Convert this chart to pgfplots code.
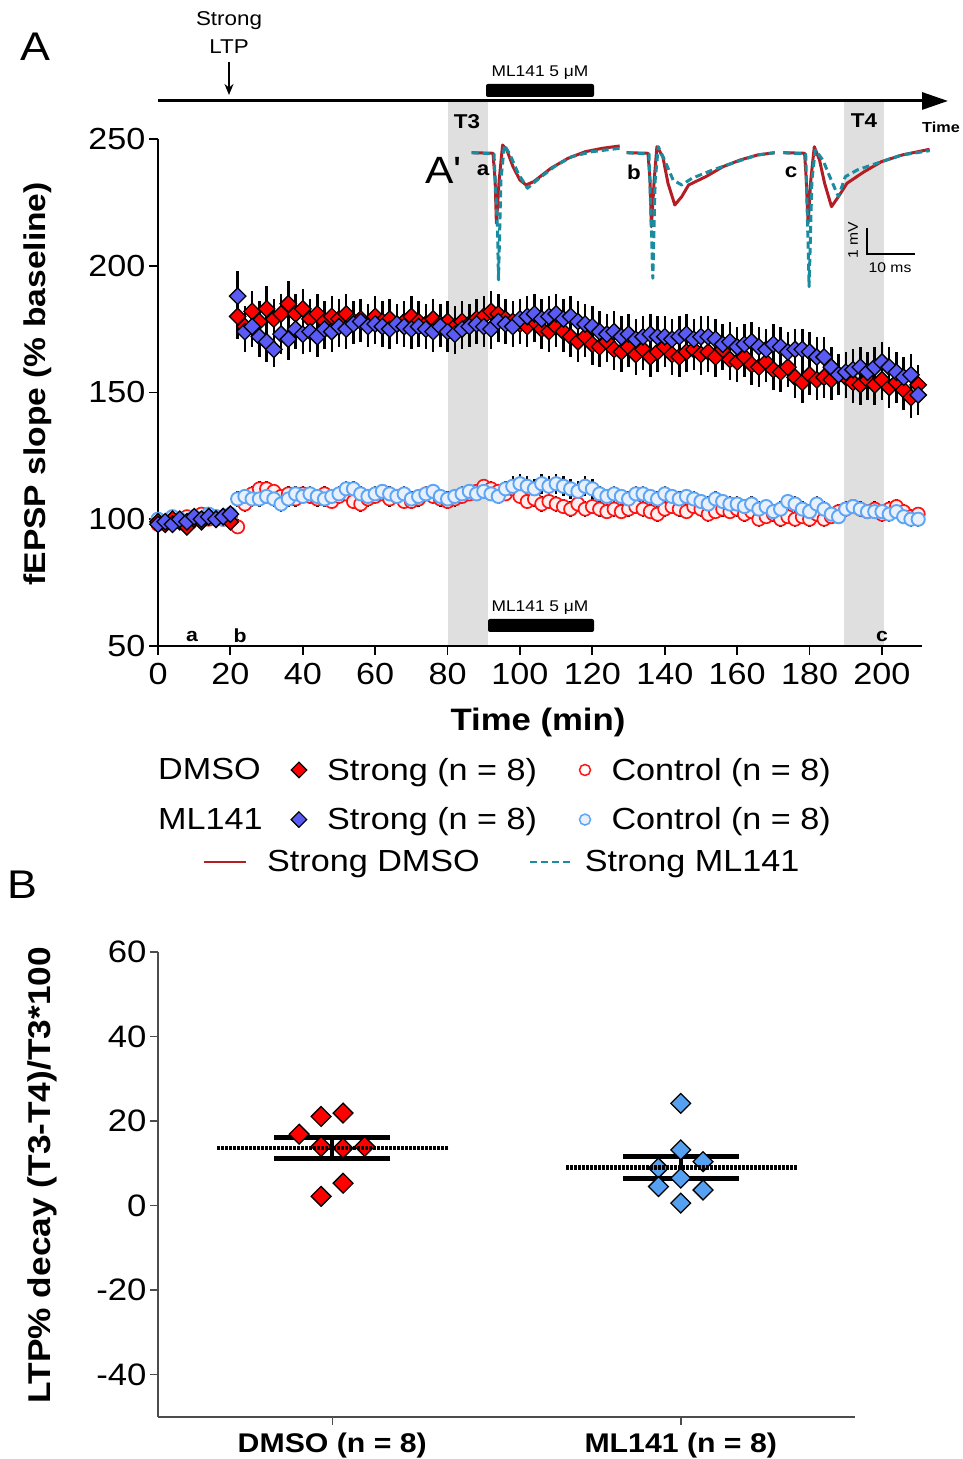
\documentclass[border=0pt]{standalone}
\usepackage{fontspec}
\setmainfont{Liberation Sans}[FakeStretch=1.12]
\usepackage{pgfplots}
\pgfplotsset{compat=1.18}
\usepackage{pgfplotstable}
\usetikzlibrary{arrows.meta}
\definecolor{dred}{RGB}{255,0,0}
\definecolor{mblue}{RGB}{90,90,245}
\definecolor{cred}{RGB}{255,20,20}
\definecolor{credfill}{RGB}{255,238,238}
\definecolor{cblue}{RGB}{95,165,245}
\definecolor{cbluefill}{RGB}{232,240,252}
\definecolor{bblue}{RGB}{85,160,240}
\definecolor{trred}{RGB}{178,30,36}
\definecolor{trblue}{RGB}{25,140,160}
\definecolor{band}{RGB}{223,223,223}
\pgfplotsset{
 mklegimg/.style={legend image code/.code={\draw[##1] plot coordinates {(0pt,0pt)};}},
 lnlegimg/.style={legend image code/.code={\draw[##1, line width=2pt] (0pt,0pt) -- (42pt,0pt);}},
}
\pgfplotstableread{
x sd sde cd cde sm sme cm cme
0 99 2 98 2 98 2 100 2
2 98 2 99 2 99 2 99 2
4 100 2 100 2 98 2 101 2
6 99 2 99 2 100 2 100 2
8 97 2 101 2 99 2 99 2
10 100 2 100 2 101 2 101 2
12 99 2 102 2 100 2 100 2
14 101 2 100 2 101 2 102 2
16 100 2 101 2 100 2 101 2
18 101 2 100 2 101 2 100 2
20 99 3 101 2 102 2 102 2
22 180 9 97 3 188 10 108 3
24 176 8 106 3 174 8 109 3
26 182 8 110 3 176 8 108 3
28 178 8 112 3 172 8 108 3
30 183 9 112 3 170 8 109 3
32 179 8 111 3 167 7 108 3
34 181 8 109 3 173 8 106 3
36 185 9 110 3 171 8 108 3
38 181 8 108 3 175 8 110 3
40 183 8 110 3 173 8 109 3
42 179 8 109 3 174 8 110 3
44 181 8 108 3 172 8 109 3
46 178 8 110 3 175 8 108 3
48 180 8 107 3 174 8 109 3
50 179 8 109 3 176 8 110 3
52 181 8 110 3 175 8 112 3
54 178 8 107 3 177 8 112 3
56 179 8 106 3 178 8 110 3
58 177 8 108 3 176 8 109 3
60 180 8 109 3 177 8 110 3
62 178 8 110 3 176 8 111 3
64 179 8 108 3 175 8 110 3
66 177 8 109 3 177 8 109 3
68 178 8 107 3 176 8 110 3
70 180 8 107 3 175 8 108 3
72 178 8 108 3 176 8 109 3
74 177 8 110 3 175 8 110 3
76 179 8 109 3 174 8 111 3
78 177 8 108 3 176 8 109 3
80 178 8 107 3 174 8 108 3
82 176 8 108 3 173 8 109 3
84 178 8 109 3 175 8 110 3
86 177 8 110 3 176 8 111 3
88 179 8 111 3 177 8 110 3
90 180 8 113 3 176 8 111 3
92 182 8 112 3 175 8 110 3
94 181 8 111 3 178 8 109 3
96 179 8 110 3 177 8 112 3
98 178 8 112 3 176 8 113 4
100 177 8 109 3 179 8 114 4
102 176 8 107 3 180 8 113 4
104 178 8 108 3 181 8 112 4
106 175 8 106 3 179 8 114 4
108 174 8 107 3 180 8 113 4
110 176 8 106 3 181 8 114 4
112 174 8 105 3 179 8 113 4
114 172 8 104 3 180 8 112 4
116 170 8 106 3 178 8 111 4
118 172 8 104 3 177 8 113 4
120 169 8 105 3 176 8 112 4
122 168 8 104 3 174 8 110 3
124 170 8 103 3 173 8 109 3
126 167 8 104 3 174 8 110 3
128 166 8 103 3 172 8 109 3
130 168 8 104 3 173 8 108 3
132 165 8 105 3 171 8 110 3
134 167 8 104 3 172 8 110 3
136 164 8 103 3 173 8 109 3
138 166 8 102 3 172 8 108 3
140 168 8 104 3 172 8 110 3
142 165 8 105 3 171 8 109 3
144 164 8 104 3 172 8 108 3
146 166 8 103 3 173 8 109 3
148 167 8 105 3 171 8 108 3
150 165 8 104 3 172 8 107 3
152 166 8 102 3 172 8 106 3
154 164 8 103 3 171 8 108 3
156 167 8 104 3 169 8 107 3
158 163 8 103 3 170 8 106 3
160 162 8 104 3 168 8 106 3
162 164 8 102 3 169 8 105 3
164 161 8 103 3 170 8 106 3
166 160 8 100 3 168 8 104 3
168 162 8 101 3 167 8 105 3
170 159 8 102 3 169 8 103 3
172 158 8 100 3 168 8 104 3
174 160 8 101 3 166 8 107 3
176 156 8 100 3 167 8 106 3
178 154 8 101 3 167 8 104 3
180 157 8 100 3 166 8 103 3
182 155 8 102 3 164 8 106 3
184 156 8 100 3 164 8 104 3
186 155 8 101 3 160 8 102 3
188 157 8 103 3 157 8 101 3
190 156 8 104 3 158 8 104 3
192 154 8 105 3 159 8 105 3
194 153 8 104 3 160 8 104 3
196 155 8 103 3 158 8 103 3
198 153 8 104 3 160 8 103 3
200 155 8 102 3 162 8 103 3
202 152 8 104 3 160 8 102 3
204 154 8 105 3 158 8 103 3
206 151 8 103 3 156 8 101 3
208 148 8 101 3 157 8 100 3
210 153 8 102 3 149 8 100 3
}\dataA
\begin{document}
\begin{tikzpicture}
\path[use as bounding box] (0pt,0pt) rectangle (962pt,1459pt);
% ---------- overlay in pixel coordinates ----------
\begin{axis}[at={(0pt,0pt)}, anchor=south west, scale only axis, width=962pt, height=1459pt,
 xmin=0, xmax=962, ymin=-1459, ymax=0, hide axis, clip=false,
 legend columns=2, legend cell align=left,
 legend style={at={(axis description cs:0.2110,0.4174)}, anchor=north west, draw=none, fill=none, inner sep=0pt,
  font=\fontsize{30.5}{36}\selectfont, nodes={inner sep=0pt},
  /tikz/column 1/.style={column sep=20pt}, /tikz/column 2/.style={column sep=49pt}, /tikz/column 3/.style={column sep=12pt}}]
\fill[band] (axis cs:448,-101) rectangle (axis cs:488,-646);
\fill[band] (axis cs:844,-101) rectangle (axis cs:884,-646);
\draw[line width=3pt, -{Triangle[length=26pt,width=17pt]}] (axis cs:158,-101) -- (axis cs:948,-101);
\fill[black, rounded corners=2pt] (axis cs:486,-84) rectangle (axis cs:594,-97);
\fill[black, rounded corners=2pt] (axis cs:488,-619) rectangle (axis cs:594,-632);
\node[font=\fontsize{15.5}{18}\selectfont] at (axis cs:540,-73) {ML141 5 μM};
\node[font=\fontsize{15.5}{18}\selectfont] at (axis cs:540,-608) {ML141 5 μM};
\node[font=\fontsize{20}{24}\selectfont] at (axis cs:229,-21) {Strong};
\node[font=\fontsize{20}{24}\selectfont] at (axis cs:229,-47) {LTP};
\draw[line width=1.5pt, -{Stealth[length=11pt,width=9pt]}] (axis cs:229,-62) -- (axis cs:229,-95);
\node[font=\bfseries\fontsize{20}{24}\selectfont] at (axis cs:467,-122) {T3};
\node[font=\bfseries\fontsize{20}{24}\selectfont] at (axis cs:864,-121) {T4};
\node[font=\bfseries\fontsize{14.5}{17}\selectfont] at (axis cs:941,-127) {Time};
\node[font=\fontsize{38}{44}\selectfont] at (axis cs:443,-170) {A\textquotesingle};
\node[font=\bfseries\fontsize{20}{24}\selectfont] at (axis cs:483,-170) {a};
\node[font=\bfseries\fontsize{20}{24}\selectfont] at (axis cs:634,-172) {b};
\node[font=\bfseries\fontsize{20}{24}\selectfont] at (axis cs:791,-172) {c};
\draw[line width=1.5pt] (axis cs:867,-228) -- (axis cs:867,-254) -- (axis cs:915,-254);
\node[rotate=90, font=\fontsize{14}{16}\selectfont] at (axis cs:853,-240) {1 mV};
\node[font=\fontsize{14}{16}\selectfont] at (axis cs:890,-268) {10 ms};
\node[font=\bfseries\fontsize{19}{22}\selectfont] at (axis cs:192,-636) {a};
\node[font=\bfseries\fontsize{19}{22}\selectfont] at (axis cs:240,-636) {b};
\node[font=\bfseries\fontsize{19}{22}\selectfont] at (axis cs:882,-636) {c};
\node[font=\fontsize{40}{46}\selectfont] at (axis cs:35,-47) {A};
\node[font=\fontsize{40}{46}\selectfont] at (axis cs:22,-885) {B};
% traces
\addplot[trred, line width=3pt, line join=round, lnlegimg] coordinates {(471.7,-152.7) (493,-153.3) (495.1,-180) (496.4,-223.3) (499.2,-180) (502.6,-145) (506.8,-150) (513,-166.7) (519.9,-180) (526,-185) (533.6,-181.7) (550.9,-168.3) (568.1,-158.3) (585.3,-151.7) (602.5,-148.3) (619.7,-146)};
\addlegendentry{Strong DMSO}
\addplot[trblue, line width=3pt, dash pattern=on 7pt off 4pt, line join=round, lnlegimg] coordinates {(471.7,-152.7) (494,-154) (497.5,-230) (498.5,-280) (500.9,-180) (504.4,-145) (510.2,-155) (518.1,-173.3) (527.4,-188.3) (537.1,-180) (554.3,-166.7) (571.5,-156.7) (592.2,-151.7) (619.7,-148.3)};
\addlegendentry{Strong ML141}
\addplot[trred, line width=3pt, line join=round, forget plot] coordinates {(626.6,-152.7) (648,-153.3) (650,-180) (651.4,-226.7) (654.2,-180) (656.9,-146.7) (662.8,-156.7) (668,-183.3) (674.8,-205) (681.7,-196.7) (688.6,-185) (705.8,-176.7) (723,-166.7) (740.2,-160) (757.5,-155) (774.7,-152.7)};
\addplot[trblue, line width=3pt, dash pattern=on 7pt off 4pt, line join=round, forget plot] coordinates {(626.6,-152.7) (649,-154) (651.4,-230) (652.8,-278.3) (655.2,-180) (658.3,-146.7) (664.5,-160) (673.1,-180) (681.7,-185) (692,-178.3) (712.7,-170) (736.8,-161.7) (757.5,-155) (774.7,-152.7)};
\addplot[trred, line width=3pt, line join=round, forget plot] coordinates {(783.3,-152.7) (804.6,-153.3) (806.3,-180) (808.1,-223.3) (810.8,-180) (814.3,-146.7) (819.5,-160) (824.6,-183.3) (831.5,-206.7) (838.4,-196.7) (847,-183.3) (864.2,-171.7) (881.4,-161.7) (902.1,-155) (929.6,-149.3)};
\addplot[trblue, line width=3pt, dash pattern=on 7pt off 4pt, line join=round, forget plot] coordinates {(783.3,-152.7) (805.7,-154) (807.7,-230) (809.1,-286.7) (811.9,-180) (815.3,-150) (822.9,-160) (829.8,-176.7) (838.4,-196.7) (845.3,-176.7) (857.3,-170) (881.4,-161.7) (902.1,-155) (929.6,-150.7)};
\end{axis}
% ---------- panel A ----------
\begin{axis}[at={(158pt,813pt)}, anchor=south west, scale only axis, width=763.8pt, height=507pt,
 xmin=0, xmax=211, ymin=50, ymax=250, clip=false,
 axis lines=left, axis line style={-, line width=1.8pt},
 xtick={0,20,...,200}, ytick={50,100,...,250},
 tick align=outside, major tick length=9pt, tick style={line width=1.8pt, black},
 tick label style={font=\fontsize{30.5}{36}\selectfont},
 xticklabel style={yshift=-5pt},
 /pgf/number format/assume math mode=true,
 xlabel={Time (min)}, xlabel style={font=\bfseries\fontsize{31}{36}\selectfont, at={(axis description cs:0.4975,-0.150)}, anchor=center},
 ylabel={fEPSP slope (\% baseline)}, ylabel style={font=\bfseries\fontsize{30}{36}\selectfont, at={(axis description cs:-0.158,0.517)}, anchor=center},
 legend columns=3, legend cell align=left,
 legend style={at={(axis description cs:0,-0.2209)}, anchor=north west, draw=none, fill=none, inner sep=0pt,
  font=\fontsize{30.5}{36}\selectfont, nodes={inner sep=0pt}, row sep=26pt,
  /tikz/column 2/.style={column sep=28.5pt}, /tikz/column 3/.style={column sep=20.5pt},
  /tikz/column 4/.style={column sep=42.5pt}, /tikz/column 5/.style={column sep=21pt}},
]
\addplot[forget plot, only marks, mark=*, mark size=6.6pt, mark options={draw=cred, fill=credfill, line width=1.7pt},
 error bars/.cd, y dir=both, y explicit, error mark=none, error bar style={line width=2.5pt, black}]
 table[x=x, y=cd, y error=cde] {\dataA};
\addplot[forget plot, only marks, mark=*, mark size=6.6pt, mark options={draw=cblue, fill=cbluefill, line width=1.9pt},
 error bars/.cd, y dir=both, y explicit, error mark=none, error bar style={line width=2.5pt, black}]
 table[x=x, y=cm, y error=cme] {\dataA};
\addplot[forget plot, only marks, mark=square*, mark size=5.8pt, mark options={rotate=45, draw=black, fill=dred, line width=1.3pt},
 error bars/.cd, y dir=both, y explicit, error mark=none, error bar style={line width=2.5pt, black}]
 table[x=x, y=sd, y error=sde] {\dataA};
\addplot[forget plot, only marks, mark=square*, mark size=5.8pt, mark options={rotate=45, draw=black, fill=mblue, line width=1.3pt},
 error bars/.cd, y dir=both, y explicit, error mark=none, error bar style={line width=2.5pt, black}]
 table[x=x, y=sm, y error=sme] {\dataA};
\addlegendimage{empty legend}\addlegendentry{DMSO}
\addlegendimage{only marks, mark=square*, mark size=5.5pt, mark options={rotate=45, fill=dred, draw=black, line width=1.2pt}, mklegimg}\addlegendentry{Strong (n = 8)}
\addlegendimage{only marks, mark=*, mark size=5.5pt, mark options={draw=cred, fill=white, line width=1.5pt}, mklegimg}\addlegendentry{Control (n = 8)}
\addlegendimage{empty legend}\addlegendentry{ML141}
\addlegendimage{only marks, mark=square*, mark size=5.5pt, mark options={rotate=45, fill=mblue, draw=black, line width=1.2pt}, mklegimg}\addlegendentry{Strong (n = 8)}
\addlegendimage{only marks, mark=*, mark size=5.5pt, mark options={draw=cblue, fill=cbluefill, line width=1.5pt}, mklegimg}\addlegendentry{Control (n = 8)}
\end{axis}
% ---------- panel B ----------
\begin{axis}[at={(158pt,42pt)}, anchor=south west, scale only axis, width=697pt, height=465pt,
 xmin=-0.5, xmax=1.5, ymin=-50, ymax=60, clip=false,
 axis lines=left, axis line style={-, line width=1.5pt, black!70},
 xtick={0,1}, xticklabels={DMSO (n = 8), ML141 (n = 8)},
 ytick={-40,-20,...,60},
 tick align=outside, major tick length=8pt, tick style={line width=1.5pt, black!70},
 xticklabel style={font=\bfseries\fontsize{27}{32}\selectfont, yshift=-4pt},
 yticklabel style={font=\fontsize{31}{36}\selectfont},
 /pgf/number format/assume math mode=true,
 ylabel={LTP\% decay (T3-T4)/T3*100}, ylabel style={font=\bfseries\fontsize{31.5}{36}\selectfont, at={(axis description cs:-0.1664,0.520)}, anchor=center},
]
\addplot[only marks, mark=square*, mark size=7pt, mark options={rotate=45, fill=dred, draw=black, line width=1.3pt}] coordinates {(-0.032,21.1) (0.031,21.9) (-0.095,16.9) (-0.032,14.0) (0.031,13.6) (0.093,14.0) (0.031,5.3) (-0.032,2.2)};
\addplot[only marks, mark=square*, mark size=7pt, mark options={rotate=45, fill=bblue, draw=black, line width=1.3pt}] coordinates {(1,24.2) (1,13.2) (1.064,10.4) (0.936,8.9) (1,6.5) (0.936,4.5) (1.064,3.7) (1,0.6)};
\addplot[only marks, mark=-, mark size=116pt, mark options={line width=4.5pt, dash pattern=on 3pt off 1pt, black}] coordinates {(0,13.6) (1,9.0)};
\addplot[only marks, mark=none, error bars/.cd, y dir=both, y explicit, error mark=-, error mark options={rotate=90, line width=5pt, mark size=58pt, black}, error bar style={line width=4pt, black}] coordinates {(0,13.6) +- (0,2.45) (1,9.0) +- (0,2.55)};
\end{axis}
\end{tikzpicture}
\end{document}
